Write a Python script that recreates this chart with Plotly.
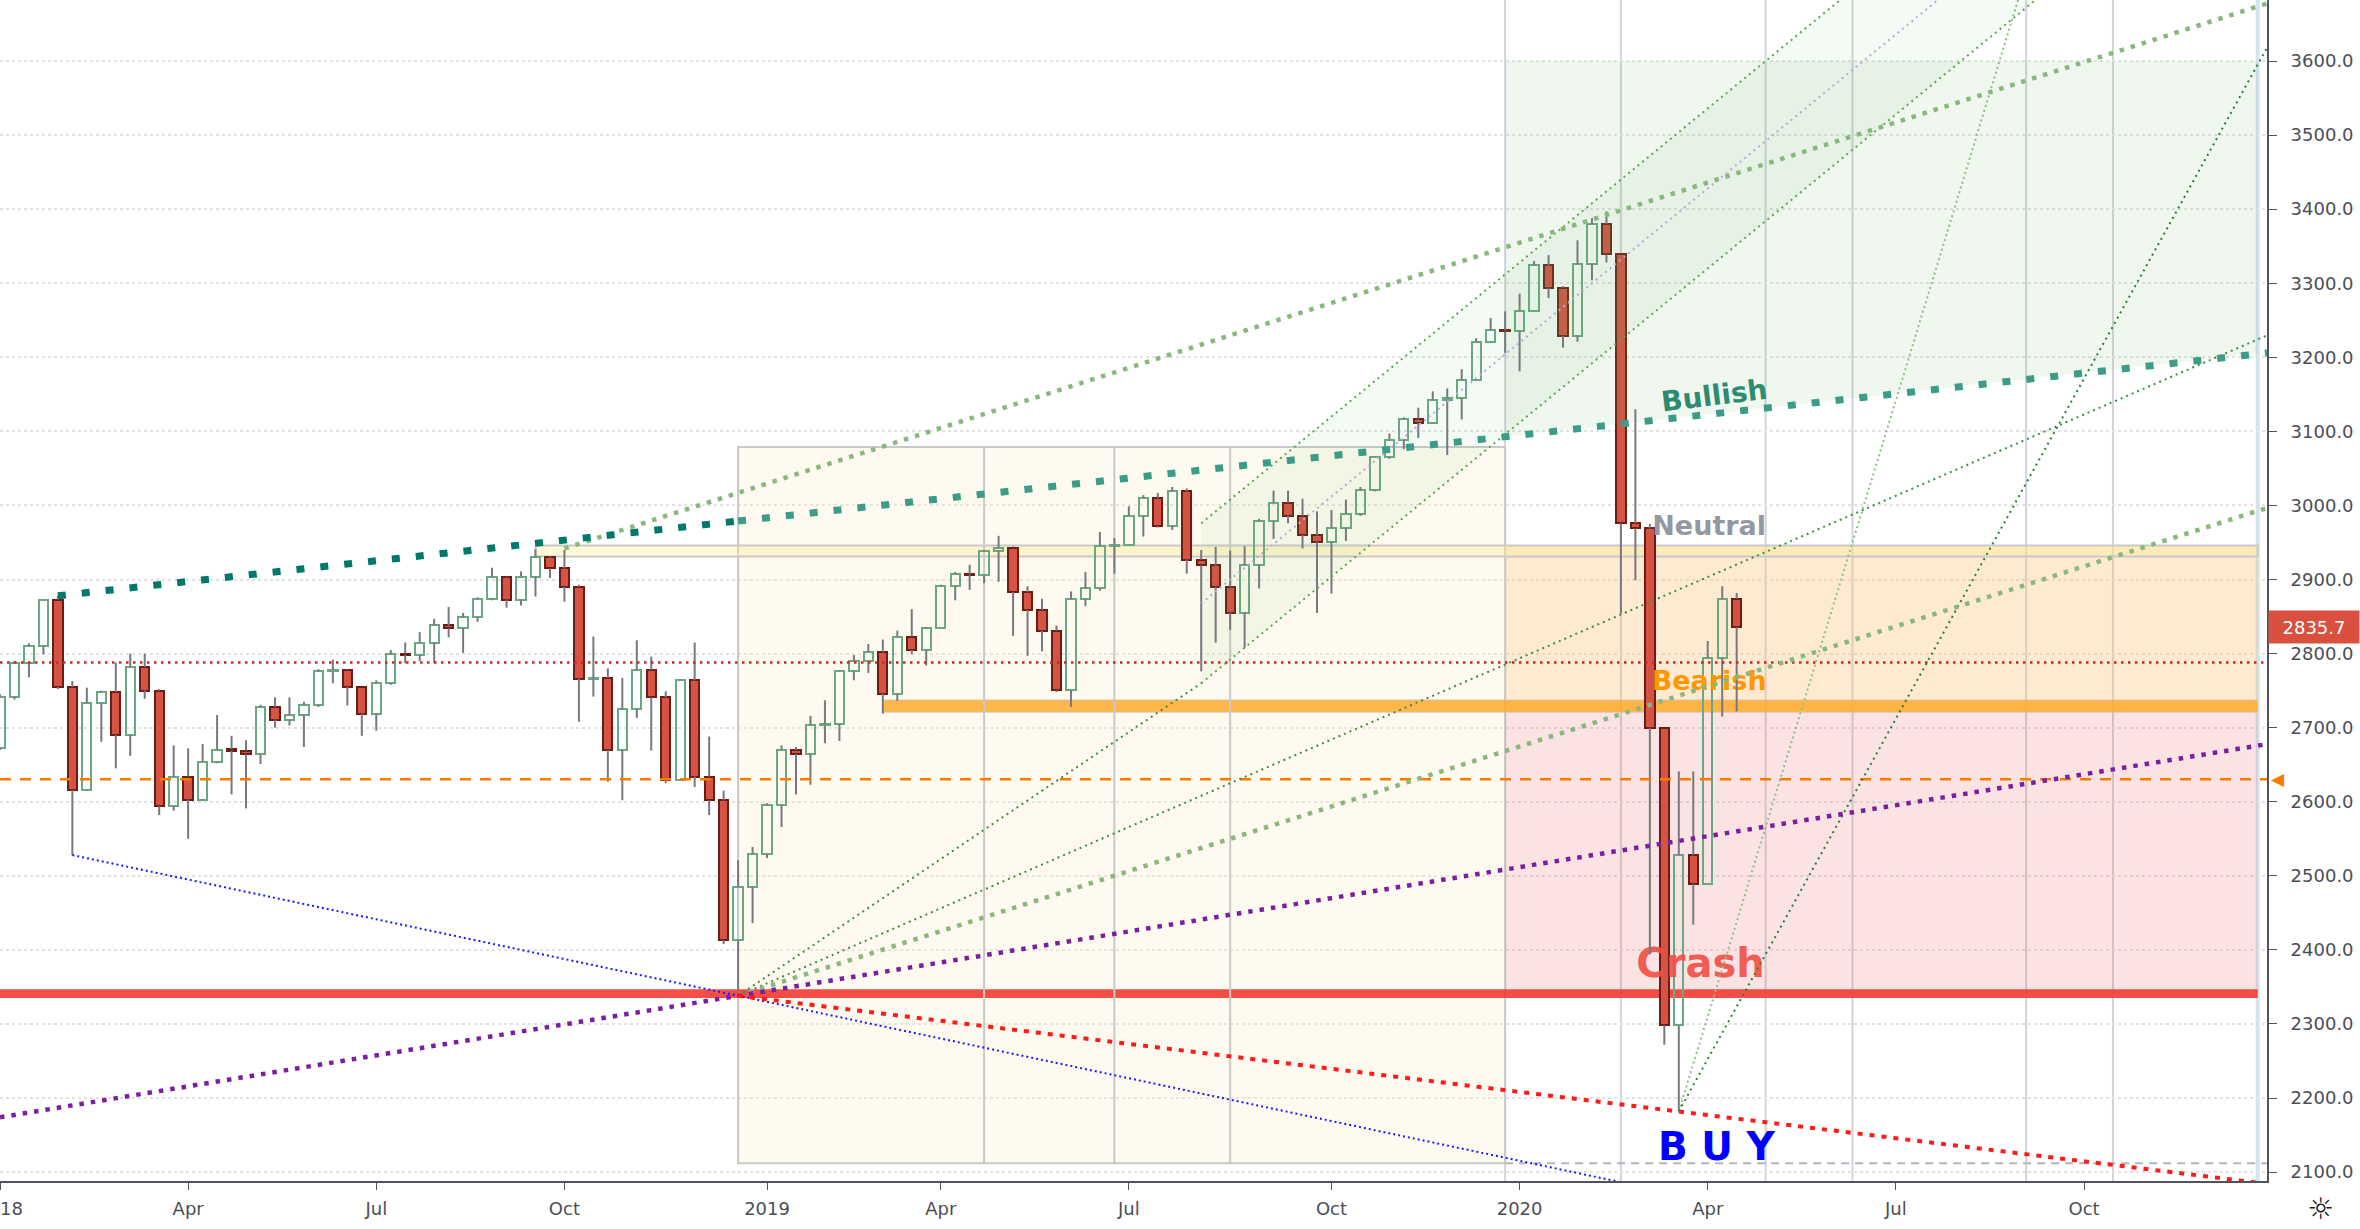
import pandas as pd
import plotly.graph_objects as go

# weekly candles, first bar = week of 2018-01-01
opens = [2673, 2742, 2787, 2810, 2873, 2755, 2616, 2733, 2748, 2690, 2782, 2750, 2594, 2634, 2603, 2654,
         2671, 2669, 2664, 2728, 2711, 2717, 2731, 2776, 2778, 2755, 2719, 2760, 2800, 2798, 2815, 2838,
         2834, 2849, 2874, 2903, 2873, 2904, 2930, 2915, 2890, 2766, 2767, 2670, 2725, 2778, 2741, 2629,
         2764, 2634, 2602, 2413, 2485, 2530, 2595, 2670, 2664, 2703, 2705, 2776, 2790, 2802, 2746, 2823,
         2805, 2834, 2891, 2907, 2906, 2938, 2943, 2883, 2859, 2831, 2751, 2874, 2888, 2945, 2947, 2986,
         3010, 2972, 3019, 2927, 2919, 2890, 2855, 2920, 2979, 3004, 2986, 2960, 2951, 2970, 2989, 3021,
         3065, 3089, 3117, 3111, 3142, 3145, 3169, 3221, 3237, 3235, 3263, 3324, 3294, 3229, 3326, 3380,
         3339, 2976, 2969, 2700, 2298, 2528, 2489, 2794, 2874]
highs = [2745, 2790, 2814, 2873, 2878, 2763, 2754, 2750, 2788, 2800, 2800, 2752, 2676, 2672, 2678, 2717,
         2689, 2683, 2731, 2741, 2741, 2735, 2779, 2792, 2779, 2755, 2764, 2805, 2815, 2829, 2847, 2863,
         2855, 2876, 2916, 2904, 2911, 2941, 2932, 2940, 2893, 2823, 2780, 2767, 2818, 2796, 2749, 2765,
         2815, 2688, 2615, 2521, 2539, 2598, 2676, 2674, 2716, 2737, 2777, 2798, 2813, 2819, 2831, 2860,
         2836, 2893, 2910, 2920, 2940, 2959, 2945, 2891, 2874, 2838, 2884, 2910, 2964, 2956, 2999, 3014,
         3017, 3025, 3023, 2940, 2944, 2939, 2945, 2982, 3020, 3020, 3009, 2992, 2994, 3008, 3025, 3066,
         3097, 3119, 3132, 3154, 3158, 3184, 3226, 3253, 3262, 3286, 3330, 3338, 3296, 3358, 3388, 3397,
         3339, 3130, 2975, 2700, 2641, 2641, 2817, 2891, 2882]
lows = [2670, 2738, 2768, 2799, 2752, 2528, 2615, 2681, 2645, 2662, 2739, 2582, 2588, 2550, 2602, 2652,
        2610, 2591, 2651, 2700, 2703, 2674, 2728, 2760, 2730, 2689, 2696, 2758, 2787, 2790, 2787, 2822,
        2801, 2843, 2872, 2862, 2865, 2877, 2902, 2870, 2708, 2742, 2627, 2602, 2713, 2669, 2625, 2629,
        2620, 2582, 2408, 2346, 2436, 2524, 2566, 2610, 2623, 2679, 2682, 2764, 2774, 2719, 2736, 2799,
        2784, 2834, 2872, 2886, 2895, 2897, 2824, 2797, 2803, 2748, 2728, 2864, 2885, 2908, 2947, 2958,
        2970, 2967, 2908, 2776, 2815, 2832, 2808, 2888, 2955, 2976, 2942, 2855, 2881, 2952, 2986, 3019,
        3063, 3076, 3091, 3110, 3068, 3116, 3169, 3221, 3206, 3181, 3263, 3280, 3213, 3221, 3304, 3328,
        2854, 2899, 2394, 2272, 2182, 2434, 2489, 2715, 2722]
closes = [2742, 2787, 2810, 2873, 2755, 2616, 2733, 2748, 2690, 2782, 2750, 2594, 2634, 2603, 2654, 2670,
          2669, 2664, 2728, 2711, 2717, 2731, 2776, 2778, 2755, 2719, 2760, 2799, 2798, 2815, 2838, 2834,
          2849, 2874, 2903, 2873, 2904, 2930, 2915, 2890, 2766, 2767, 2670, 2725, 2778, 2741, 2629, 2764,
          2634, 2602, 2413, 2485, 2530, 2595, 2670, 2664, 2703, 2705, 2776, 2790, 2802, 2746, 2823, 2805,
          2834, 2891, 2907, 2906, 2938, 2943, 2883, 2859, 2831, 2751, 2874, 2888, 2945, 2947, 2986, 3010,
          2972, 3019, 2927, 2919, 2890, 2855, 2920, 2979, 3004, 2986, 2960, 2951, 2970, 2989, 3021, 3065,
          3089, 3117, 3111, 3142, 3145, 3169, 3221, 3237, 3235, 3263, 3324, 3294, 3229, 3326, 3380, 3339,
          2976, 2969, 2700, 2298, 2528, 2489, 2794, 2874, 2835.7]
dates = pd.date_range("2018-01-01", periods=len(closes), freq="7D")
last_price = 2835.7

tick_dates = ["2018-01-01", "2018-04-02", "2018-07-02", "2018-10-01", "2019-01-07", "2019-04-01",
              "2019-07-01", "2019-10-07", "2020-01-06", "2020-04-06", "2020-07-06", "2020-10-05"]
tick_labels = ["2018", "Apr", "Jul", "Oct", "2019", "Apr", "Jul", "Oct", "2020", "Apr", "Jul", "Oct"]

# drawings, positions in weeks since 2018-01-01 and price values
bullish_w = [4, 51, 156.7]
bullish_v = [2878, 2979, 3206]
upper_fan_w = [39, 156.7]
upper_fan_v = [2942, 3678]
lower_fan_w = [51, 156.7]
lower_fan_v = [2338, 2997]
purple_w = [0, 156.7]
purple_v = [2174, 2678]
blue_w = [5, 115]
blue_v = [2528, 2074]
red_fan_w = [51, 156.7]
red_fan_v = [2338, 2084]
mid_fan_w = [51, 156.7]
mid_fan_v = [2338, 3230]
steep_fan_w = [51, 83]
steep_fan_v = [2338, 2760]
chan_low_w = [83, 141]
chan_low_v = [2760, 3688]
chan_mid_w = [83, 134.5]
chan_mid_v = [2868, 3692]
chan_up_w = [83, 128]
chan_up_v = [2976, 3696]
chan_fill_w = [83, 83, 160, 160]
chan_fill_v = [2760, 2976, 4208, 3992]
buy_dark_w = [116, 156.7]
buy_dark_v = [2182, 3620]
buy_light_w = [116, 140]
buy_light_v = [2182, 3718]

red_level = 2788
orange_level = 2630.5
bottom_level = 2112

beige_box_w = [51, 104]
beige_box_v = [2112, 3079]
neutral_band_w = [37, 156]
neutral_band_v = [2931, 2946]
support_band_w = [61, 156]
support_band_v = [2721, 2737.5]
crash_band_w = [-1, 156]
crash_band_v = [2335, 2347]
bull_zone_w = [104, 156, 156, 104]
bull_zone_v = [3600, 3600, 3205, 3093]
bear_zone_w = [104, 156]
bear_zone_v = [2721, 2946]
crash_zone_w = [104, 156]
crash_zone_v = [2341, 2721]

full_vlines_w = [104, 112, 122, 128, 140, 146]
box_vlines_w = [68, 77, 85]
edge_vline_w = 156

week0 = pd.Timestamp("2018-01-01")


def wk(i):
    return week0 + pd.Timedelta(days=7 * i)


fig = go.Figure()

# zones
def rect(w, v, fill, line_color=None, line_width=0):
    fig.add_shape(type="rect", xref="x", yref="y", x0=wk(w[0]), x1=wk(w[1]), y0=v[0], y1=v[1],
                  fillcolor=fill, line=dict(color=line_color or "rgba(0,0,0,0)", width=line_width),
                  layer="between")


rect(beige_box_w, beige_box_v, "rgba(250,235,190,0.25)", "#c9c9c9", 2)
rect(bear_zone_w, bear_zone_v, "rgba(250,190,110,0.32)")
rect(crash_zone_w, crash_zone_v, "rgba(232,90,90,0.17)")
rect(neutral_band_w, neutral_band_v, "rgba(255,235,150,0.4)", "#c9c9c9", 2)
rect(support_band_w, support_band_v, "rgba(255,167,38,0.82)", "rgba(200,200,200,0.8)", 1)
rect(crash_band_w, crash_band_v, "rgba(242,54,44,0.88)")

for w in full_vlines_w:
    fig.add_shape(type="line", xref="x", yref="paper", x0=wk(w), x1=wk(w), y0=0, y1=1,
                  line=dict(color="#d1d4dc", width=2), layer="between")
for w in box_vlines_w:
    fig.add_shape(type="line", xref="x", yref="y", x0=wk(w), x1=wk(w), y0=beige_box_v[0], y1=beige_box_v[1],
                  line=dict(color="#c9c9c9", width=2), layer="between")
fig.add_shape(type="line", xref="x", yref="paper", x0=wk(edge_vline_w), x1=wk(edge_vline_w), y0=0, y1=1,
              line=dict(color="#d4e3f0", width=4), layer="between")

fig.add_trace(go.Scatter(x=[wk(i) for i in bull_zone_w], y=bull_zone_v, fill="toself", mode="none",
                         fillcolor="rgba(100,180,100,0.10)", hoverinfo="skip"))
fig.add_trace(go.Scatter(x=[wk(i) for i in chan_fill_w], y=chan_fill_v, fill="toself", mode="none",
                         fillcolor="rgba(100,180,100,0.07)", hoverinfo="skip"))

# zone labels (under the candles)
def label(w, v, text, size, color):
    fig.add_trace(go.Scatter(x=[wk(w)], y=[v], mode="text", text=["<b>" + text + "</b>"],
                             textposition="middle center",
                             textfont=dict(family="DejaVu Sans", size=size, color=color), hoverinfo="skip"))


label(118.1, 2969, "Neutral", 27, "#9598a1")
label(118.1, 2760, "Bearish", 27, "#ff9800")
label(117.5, 2377, "Crash", 40, "rgba(240,80,70,0.92)")
label(118.6, 2129, "B U Y", 39, "#0000ff")

# candles: wicks outside the body, hollow up bodies
wick_x, wick_y = [], []
for d, o, h, l, c in zip(dates, opens, highs, lows, closes):
    wick_x += [d, d, None, d, d, None]
    wick_y += [h, max(o, c), None, min(o, c), l, None]
fig.add_trace(go.Scatter(x=wick_x, y=wick_y, mode="lines", line=dict(color="#77797f", width=2),
                         hoverinfo="skip"))

body_base = [min(o, c) for o, c in zip(opens, closes)]
body_h = [max(abs(c - o), 1.5) for o, c in zip(opens, closes)]
body_fill = ["rgba(0,0,0,0)" if c >= o else "#d65242" for o, c in zip(opens, closes)]
body_line = ["#6aa884" if c >= o else "#6b1d16" for o, c in zip(opens, closes)]
fig.add_trace(go.Bar(x=dates, y=body_h, base=body_base, width=4.5 * 86400000,
                     marker=dict(color=body_fill, line=dict(color=body_line, width=2)), hoverinfo="skip"))

# drawing lines
def line(w, v, color, width, dash):
    fig.add_trace(go.Scatter(x=[wk(i) for i in w], y=v, mode="lines",
                             line=dict(color=color, width=width, dash=dash), hoverinfo="skip"))


x_lo, x_hi = pd.Timestamp("2018-01-01"), pd.Timestamp("2021-01-01 12:00")
fig.add_trace(go.Scatter(x=[x_lo, x_hi], y=[red_level, red_level], mode="lines",
                         line=dict(color="#c62828", width=2.5, dash="2.5px,4.5px"), hoverinfo="skip"))
fig.add_trace(go.Scatter(x=[x_lo, x_hi], y=[orange_level, orange_level], mode="lines",
                         line=dict(color="#f57c00", width=2.5, dash="11px,9px"), hoverinfo="skip"))
fig.add_trace(go.Scatter(x=[wk(104), x_hi], y=[bottom_level, bottom_level], mode="lines",
                         line=dict(color="#b2b5be", width=2, dash="8px,6px"), hoverinfo="skip"))

line(blue_w, blue_v, "#1a1aff", 2, "2px,3px")
line(steep_fan_w, steep_fan_v, "#3e8e41", 2, "2px,4px")
line(mid_fan_w, mid_fan_v, "#3e8e41", 2, "2px,4px")
line(chan_low_w, chan_low_v, "#5ea64f", 2, "2px,4px")
line(chan_up_w, chan_up_v, "#5ea64f", 2, "2px,4px")
line(chan_mid_w, chan_mid_v, "#c2a3d9", 2, "2px,4px")
line(buy_light_w, buy_light_v, "#8fbf85", 2, "2px,3px")
line(buy_dark_w, buy_dark_v, "#2e7d32", 2, "2px,4px")
line(upper_fan_w, upper_fan_v, "#8ab87c", 4.5, "4.5px,7px")
line(lower_fan_w, lower_fan_v, "#8ab87c", 4.5, "4.5px,7px")
line(purple_w, purple_v, "#7b1fa2", 4.5, "4.5px,7px")
line(red_fan_w, red_fan_v, "#ff1a1a", 4, "5px,7px")
line(bullish_w[:2], bullish_v[:2], "#00796b", 7, "8px,16px")
line(bullish_w[1:], bullish_v[1:], "#3d9c87", 7, "8px,16px")

fig.add_annotation(x=wk(118.5), y=3148, text="<b>Bullish</b>", showarrow=False, textangle=-7,
                   font=dict(family="DejaVu Sans", size=28, color="#2e8b6f"))

# price axis markers
fig.add_annotation(xref="paper", x=1, xanchor="left", xshift=1, y=last_price, yref="y",
                   text="2835.7", showarrow=False, bgcolor="#d9503f", width=84, height=26, borderpad=3,
                   font=dict(family="DejaVu Sans", size=18, color="white"))
fig.add_annotation(xref="paper", x=1, xanchor="left", xshift=2, y=orange_level, yref="y",
                   text="◀", showarrow=False, font=dict(family="DejaVu Sans", size=17, color="#f57c00"))
fig.add_annotation(xref="paper", x=1.0234, y=-0.0229, yref="paper", xanchor="center", yanchor="middle",
                   text="☼", showarrow=False, font=dict(family="DejaVu Sans", size=30, color="#131722"))

axis_font = dict(family="DejaVu Sans", size=18, color="#4c4e55")
fig.update_layout(
    width=2360, height=1229,
    margin=dict(l=0, r=93, t=0, b=48),
    plot_bgcolor="white", paper_bgcolor="white",
    showlegend=False, hovermode=False, bargap=0,
    xaxis=dict(type="date", range=[x_lo, x_hi], showgrid=False, zeroline=False, automargin=False,
               showline=True, linecolor="#50535e", linewidth=2,
               ticks="outside", ticklen=7, tickcolor="#50535e",
               tickvals=tick_dates, ticktext=tick_labels, tickfont=axis_font,
               ticklabelstandoff=3, ticklabeloverflow="allow"),
    yaxis=dict(side="right", range=[2088, 3682.4], tick0=2100, dtick=100, tickformat=".1f",
               showgrid=True, gridcolor="#e2e2e2", griddash="dot", gridwidth=1.5, zeroline=False,
               automargin=False, showline=True, linecolor="#50535e", linewidth=2,
               ticks="outside", ticklen=8, tickcolor="#50535e", tickfont=axis_font,
               ticklabelstandoff=10, ticklabeloverflow="allow"),
)

# page body has a default 8px margin; remove it so the chart fills the window
fig.write_html("out.html", config={"displayModeBar": False},
               post_script="document.body.style.margin='0';")
